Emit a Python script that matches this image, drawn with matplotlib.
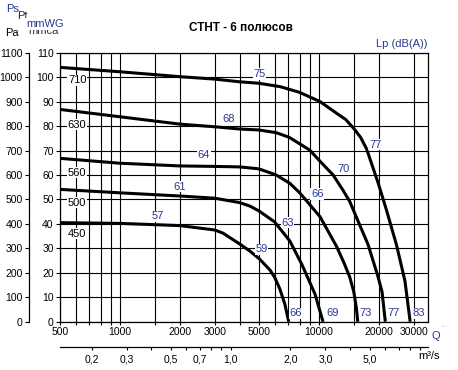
import matplotlib
matplotlib.use("Agg")
import matplotlib.pyplot as plt
from matplotlib.ticker import FixedLocator, FixedFormatter, NullFormatter

plt.rcParams['font.family'] = ['Liberation Sans', 'DejaVu Sans']

W, H = 458, 370
BLUE = '#2b3990'

# fan curves: air flow (m3/h) vs static pressure (Pa)
q_450 = [500, 1000, 2000, 3000, 3300, 4000, 4500, 5040, 5690, 6020, 6370, 6750, 7060]
p_450 = [405, 402, 393, 375, 362, 318, 289, 256, 211, 179, 134, 72, 0]

q_500 = [500, 1000, 2000, 3000, 4000, 4500, 5000, 6000, 7150, 8200, 9570, 10500]
p_500 = [541, 527, 514, 505, 487, 473, 453, 408, 330, 236, 113, 0]

q_560 = [500, 1000, 2000, 3000, 4000, 5000, 6100, 7150, 8040, 10150, 12300, 13460, 14300,
         15000, 15450, 15700]
p_560 = [668, 648, 637, 635, 633, 625, 600, 566, 526, 429, 307, 236, 183, 122, 56, 0]

q_630 = [500, 1000, 2000, 3000, 4000, 5000, 6100, 7100, 9000, 10200, 11800, 13200, 14300,
         16300, 17640, 18700, 19800, 20800, 21600]
p_630 = [868, 838, 808, 797, 788, 784, 773, 754, 702, 654, 600, 539, 492, 383, 318, 252,
         187, 122, 0]

q_710 = [500, 1000, 2000, 3000, 4000, 5000, 6400, 8000, 10150, 12300, 13650, 15000, 16250,
         17400, 18450, 19900, 21900, 24600, 27100, 28800]
p_710 = [1040, 1022, 1002, 992, 981, 975, 961, 938, 900, 852, 827, 790, 753, 706,
         645, 566, 456, 313, 167, 0]

curves = [(q_450, p_450), (q_500, p_500), (q_560, p_560), (q_630, p_630), (q_710, p_710)]

# fan size labels (at left)
size_names = ['710', '630', '560', '500', '450']
size_q = [610, 610, 610, 610, 610]
size_p = [988, 805, 609, 487, 359]

# sound pressure labels Lp dB(A)
lp_names = ['57', '61', '64', '68', '75',
            '59', '63', '66', '70', '77',
            '66', '69', '73', '77', '83']
lp_q = [1553, 2005, 2645, 3535, 5050,
        5160, 6970, 9820, 13370, 19200,
        7650, 11700, 17200, 23850, 31900]
lp_p = [432, 552, 682, 829, 1013,
        297, 405, 522, 623, 723,
        34, 34, 34, 34, 34]

x_major = [500, 1000, 2000, 3000, 5000, 10000, 20000, 30000]
x_minor = [600, 700, 800, 900, 1500, 4000, 6000, 7000, 8000, 9000, 15000]
pa_ticks = list(range(0, 1101, 100))

ms_major = [0.2, 0.3, 0.5, 0.7, 1.0, 2.0, 3.0, 5.0]
ms_labels = ['0,2', '0,3', '0,5', '0,7', '1,0', '2,0', '3,0', '5,0']
ms_minor = [0.4, 0.6, 0.8, 0.9, 4.0, 6.0, 7.0, 8.0, 9.0]

fig = plt.figure(figsize=(W / 100, H / 100), dpi=100)
left, right, top, bottom = 60, 428, 52.7, 321.7
ax = fig.add_axes([left / W, 1 - bottom / H, (right - left) / W, (bottom - top) / H])

ax.set_xscale('log')
ax.set_xlim(500, 35400)
ax.set_ylim(0, 1100)

for q, p in curves:
    ax.plot(q, p, color='black', lw=2.2, solid_joinstyle='round', solid_capstyle='butt', zorder=3)

for name, q, p in zip(size_names, size_q, size_p):
    ax.text(q, p, name, fontsize=8, ha='center', va='center', color='black', zorder=4,
            bbox=dict(boxstyle='square,pad=0.05', fc='white', ec='none'))

for name, q, p in zip(lp_names, lp_q, lp_p):
    ax.text(q, p, name, fontsize=8, ha='center', va='center', color=BLUE, zorder=4,
            bbox=dict(boxstyle='square,pad=0.05', fc='white', ec='none'))

# grid + axes styling
ax.xaxis.set_major_locator(FixedLocator(x_major))
ax.xaxis.set_major_formatter(FixedFormatter([str(v) for v in x_major]))
ax.xaxis.set_minor_locator(FixedLocator(x_minor))
ax.xaxis.set_minor_formatter(NullFormatter())
ax.set_yticks(pa_ticks)
ax.set_yticklabels([str(v // 10) for v in pa_ticks])
ax.grid(True, which='both', color='black', lw=0.8)
ax.tick_params(axis='x', which='both', length=2, width=0.8, pad=2, labelsize=7.5)
ax.tick_params(axis='y', length=3, width=0.8, pad=1.5, labelsize=7.5)
for s in ax.spines.values():
    s.set_linewidth(0.9)

# Pa axis further left
pa_ax = ax.secondary_yaxis(-(left - 29) / (right - left))
pa_ax.set_yticks(pa_ticks)
pa_ax.set_yticklabels([str(v) for v in pa_ticks])
pa_ax.tick_params(length=3, width=0.8, pad=1.5, labelsize=7.5)
pa_ax.spines['left'].set_linewidth(0.9)

# m3/s axis below
ms_ax = ax.secondary_xaxis(-25 / (bottom - top), functions=(lambda q: q / 3600, lambda s: s * 3600))
ms_ax.xaxis.set_major_locator(FixedLocator(ms_major))
ms_ax.xaxis.set_major_formatter(FixedFormatter(ms_labels))
ms_ax.xaxis.set_minor_locator(FixedLocator(ms_minor))
ms_ax.xaxis.set_minor_formatter(NullFormatter())
ms_ax.tick_params(which='both', length=2.5, width=0.8, pad=3, labelsize=7.5)
ms_ax.spines['bottom'].set_linewidth(0.9)


def ftext(x, y, s, **kw):
    fig.text(x / W, 1 - y / H, s, **kw)


ftext(293, 28, 'СТНТ - 6 полюсов', fontsize=8.5, fontweight='bold', ha='right', va='center')
ftext(428, 44, 'Lp (dB(A))', fontsize=8, color=BLUE, ha='right', va='center')

# stacked unit labels top-left (partly hidden under each other)
ftext(6, 8.7, 'Ps', fontsize=8, color=BLUE, ha='left', va='center')
ftext(17, 16.2, 'Pt', fontsize=8, color='#222244', ha='left', va='center')
ftext(28, 31.5, 'mmca', fontsize=8, color='#333333', ha='left', va='center')
ftext(26, 24.2, 'mmWG', fontsize=8, color=BLUE, ha='left', va='center',
      bbox=dict(boxstyle='square,pad=0.08', fc='white', ec='none'))
ftext(5, 32.5, 'Pa', fontsize=8, color='black', ha='left', va='center')

ftext(431, 336, 'Q', fontsize=8, color=BLUE, ha='left', va='center')
ftext(442, 329, '˚ ¨', fontsize=4, color='#888888', ha='left', va='center')
ftext(418, 356, 'm³/s', fontsize=8, color='black', ha='left', va='center')

fig.savefig('out.png', dpi=100)
